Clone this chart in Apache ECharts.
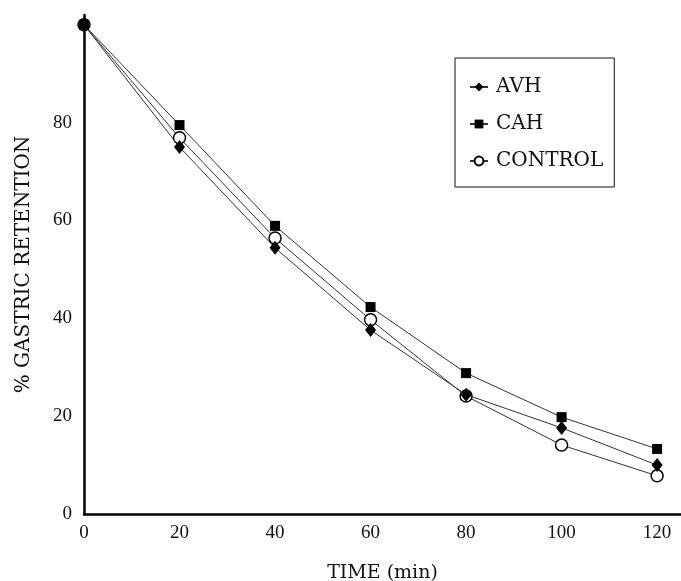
<!DOCTYPE html>
<html>
<head>
<meta charset="utf-8">
<script src="https://cdn.jsdelivr.net/npm/echarts@6/dist/echarts.min.js"></script>
<style>
  html, body { margin: 0; padding: 0; background: #fff; }
  #chart { width: 681px; height: 581px; }
</style>
</head>
<body>
<div id="chart"></div>
<script>
var times = [0, 20, 40, 60, 80, 100, 120];
var avh = [100, 75.0, 54.4, 37.6, 24.4, 17.6, 10.0];
var cah = [100, 79.5, 58.9, 42.3, 28.8, 19.8, 13.3];
var control = [100, 76.9, 56.4, 39.7, 24.1, 14.1, 7.8];
var yTicks = [0, 20, 40, 60, 80];
var xTicks = [0, 20, 40, 60, 80, 100, 120];

function pairs(vals) {
  return times.map(function (t, i) { return [t, vals[i]]; });
}

var font = "Liberation Serif";
var nameFont = "DejaVu Serif";
var chart = echarts.init(document.getElementById("chart"));

chart.setOption({
  backgroundColor: "#fff",
  animation: false,
  grid: { left: 84, right: 0, top: 15, bottom: 67, outerBoundsMode: "none" },
  legend: {
    orient: "vertical",
    left: 455,
    top: 58,
    data: ["AVH", "CAH", "CONTROL"],
    borderColor: "#111",
    borderWidth: 1,
    padding: [19, 11, 16, 14],
    itemWidth: 18,
    itemHeight: 11,
    itemGap: 17,
    textStyle: { fontFamily: nameFont, fontSize: 20, color: "#111", padding: [0, 0, 0, 3] }
  },
  xAxis: {
    type: "value",
    min: 0,
    max: 125,
    interval: 20,
    name: "TIME (min)",
    nameLocation: "middle",
    nameGap: 50,
    nameTextStyle: { fontFamily: nameFont, fontSize: 19, color: "#111" },
    axisLine: { lineStyle: { color: "#000", width: 2.5 } },
    axisTick: { show: false },
    splitLine: { show: false },
    axisLabel: {
      fontFamily: font, fontSize: 19, color: "#111", margin: 10,
      showMaxLabel: false,
      formatter: function (v) { return xTicks.indexOf(v) >= 0 ? String(v) : ""; }
    }
  },
  yAxis: {
    type: "value",
    min: 0,
    max: 102,
    interval: 20,
    name: "% GASTRIC RETENTION",
    nameLocation: "middle",
    nameGap: 50,
    nameTextStyle: { fontFamily: nameFont, fontSize: 20, color: "#111" },
    axisLine: { show: true, lineStyle: { color: "#000", width: 2.5 } },
    axisTick: { show: false },
    splitLine: { show: false },
    axisLabel: {
      fontFamily: font, fontSize: 19, color: "#111", margin: 12,
      showMaxLabel: false,
      formatter: function (v) { return yTicks.indexOf(v) >= 0 ? String(v) : ""; }
    }
  },
  series: [
    {
      name: "CONTROL",
      type: "line",
      z: 2,
      data: pairs(control),
      symbol: "circle",
      symbolSize: 12,
      lineStyle: { color: "#333", width: 1 },
      itemStyle: { color: "#fff", borderColor: "#000", borderWidth: 1.5 }
    },
    {
      name: "AVH",
      type: "line",
      z: 3,
      data: pairs(avh),
      symbol: "diamond",
      symbolSize: [11, 14],
      lineStyle: { color: "#333", width: 1 },
      itemStyle: { color: "#000" }
    },
    {
      name: "CAH",
      type: "line",
      z: 4,
      data: pairs(cah),
      symbol: "rect",
      symbolSize: 10,
      lineStyle: { color: "#333", width: 1 },
      itemStyle: { color: "#000" }
    }
  ]
});
</script>
</body>
</html>
